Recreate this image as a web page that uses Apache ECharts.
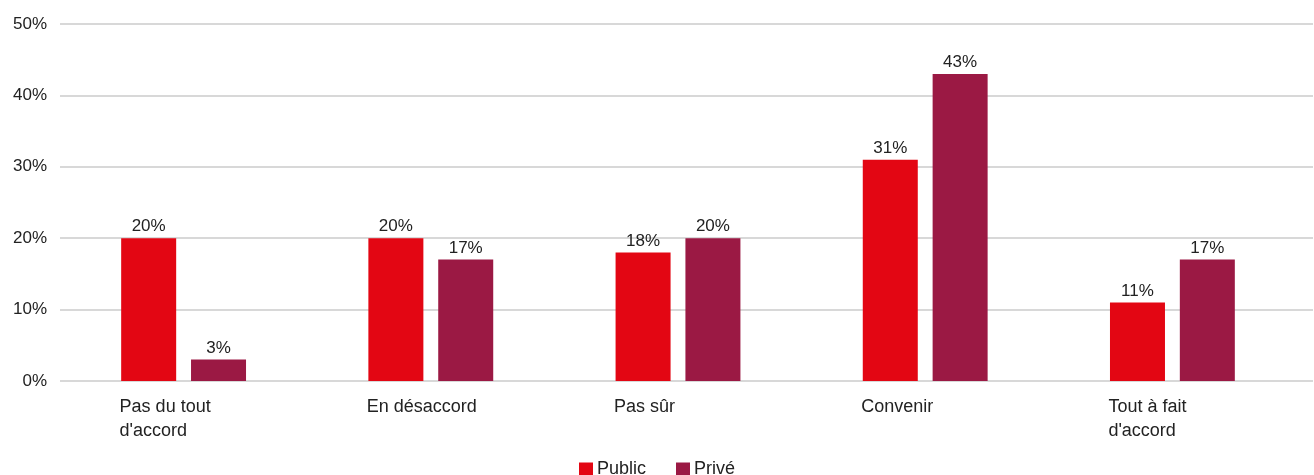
<!DOCTYPE html>
<html><head><meta charset="utf-8">
<script src="https://cdn.jsdelivr.net/npm/echarts@6/dist/echarts.min.js"></script>
<style>html,body{margin:0;padding:0;background:#fff}#c{width:1314px;height:475px}</style>
</head><body><div id="c"></div>
<script>
var categories = ["Pas du tout\nd'accord", "En désaccord", "Pas sûr", "Convenir", "Tout à fait\nd'accord"];
var publicValues = [20, 20, 18, 31, 11];
var priveValues = [3, 17, 20, 43, 17];
var seriesNames = ["Public", "Privé"];
var yTicks = [0, 10, 20, 30, 40, 50];

var font = "'Liberation Sans', Arial, sans-serif";
var chart = echarts.init(document.getElementById('c'), null, {renderer: 'canvas'});
chart.setOption({
  animation: false,
  textStyle: {fontFamily: font},
  legend: {
    top: 455, left: 'center', itemWidth: 14, itemHeight: 13, itemGap: 30,
    icon: 'rect',
    textStyle: {fontSize: 18, color: '#222', fontFamily: font, padding: [0, 0, 0, -1]},
    data: seriesNames
  },
  grid: [
    {left: 60, right: 1, top: 24, bottom: 94},
    {left: 60, right: 18, top: 24, bottom: 94}
  ],
  xAxis: [
    {type: 'category', gridIndex: 0, data: categories, show: false},
    {type: 'category', gridIndex: 1, data: categories,
     axisLine: {show: false}, axisTick: {show: false},
     axisLabel: {color: '#222', fontSize: 18, fontFamily: font, align: 'left', margin: 14,
       lineHeight: 24, padding: [0, 0, 0, -64]}}
  ],
  yAxis: [
    {type: 'value', gridIndex: 0, min: 0, max: 50, interval: 10,
     axisLine: {show: false}, axisTick: {show: false},
     axisLabel: {color: '#222', fontSize: 17, fontFamily: font, margin: 13,
       formatter: function (v) { return v + '%'; }},
     splitLine: {lineStyle: {color: '#cbcbcb', width: 1.5}}},
    {type: 'value', gridIndex: 1, min: 0, max: 50, interval: 10, show: false,
     splitLine: {show: false}}
  ],
  series: [
    {name: seriesNames[0], type: 'bar', xAxisIndex: 1, yAxisIndex: 1, data: publicValues,
     barWidth: 55, barGap: '27%', itemStyle: {color: '#E30613'},
     label: {show: true, position: 'top', distance: 3, color: '#222', fontSize: 17, fontFamily: font,
       formatter: function (p) { return p.value + '%'; }}},
    {name: seriesNames[1], type: 'bar', xAxisIndex: 1, yAxisIndex: 1, data: priveValues,
     barWidth: 55, barGap: '27%', itemStyle: {color: '#9B1944'},
     label: {show: true, position: 'top', distance: 3, color: '#222', fontSize: 17, fontFamily: font,
       formatter: function (p) { return p.value + '%'; }}}
  ]
});
</script></body></html>
